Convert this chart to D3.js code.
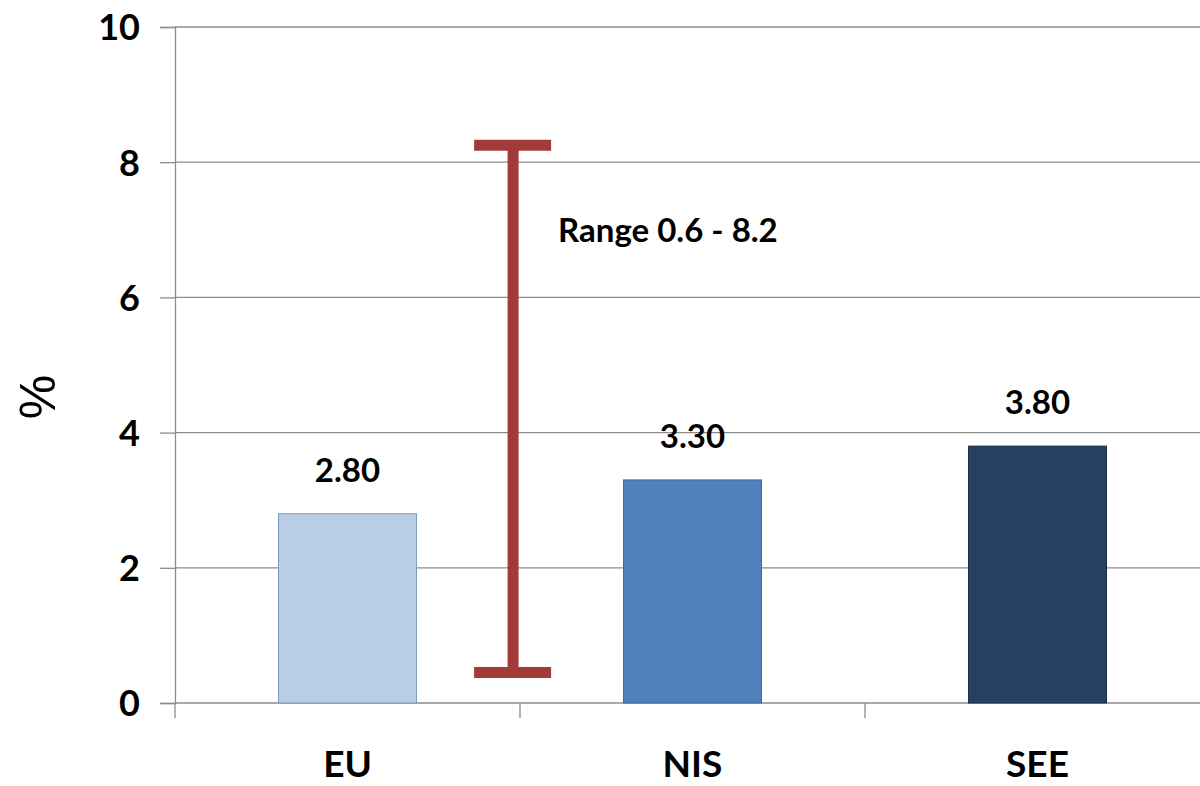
<!DOCTYPE html>
<html>
<head>
<meta charset="utf-8">
<script src="https://cdn.jsdelivr.net/npm/d3@7"></script>
<style>
  body { margin: 0; background: #fff; }
  svg { display: block; }
  text { font-family: Lato, "Open Sans", sans-serif; font-weight: bold; fill: #000; }
</style>
</head>
<body>
<svg id="canvas" width="1200" height="786"></svg>
<script>
let categories = ["EU", "NIS", "SEE"];
let values = [2.8, 3.3, 3.8];
let barColors = ["#b9cde5", "#4f81bd", "#254061"];
let barStrokes = ["#7f9cc0", "#3f6a9e", "#1b304a"];
let yTicks = [0, 2, 4, 6, 8, 10];

// range whisker sits just left of the EU/NIS boundary
let rangeLow = 0.45;
let rangeHigh = 8.25;
let rangePos = 0.98; // in category units
let rangeLabel = "Range 0.6 - 8.2";

let margin = { top: 27, right: -10, bottom: 83, left: 175 };
let width = 1200 - margin.left - margin.right;
let height = 786 - margin.top - margin.bottom;

let svg = d3.select("#canvas");
let g = svg.append("g").attr("transform", `translate(${margin.left},${margin.top})`);

let x = d3.scaleBand().domain(categories).range([0, width]).paddingInner(0.6).paddingOuter(0.3);
let xPos = d3.scaleLinear().domain([0, categories.length]).range([0, width]);
let y = d3.scaleLinear().domain([0, 10]).range([height, 0]);

// gridlines
g.selectAll(".grid")
  .data(yTicks.filter(d => d > 0))
  .enter()
  .append("line")
  .attr("x1", 0).attr("x2", width)
  .attr("y1", d => y(d)).attr("y2", d => y(d))
  .attr("stroke", "#8c8c8c").attr("stroke-width", 1.3);

// y axis
let yAxis = g.append("g")
  .call(d3.axisLeft(y).tickValues(yTicks).tickSize(15).tickPadding(20));
yAxis.select(".domain").attr("stroke", "#8c8c8c").attr("stroke-width", 1.3);
yAxis.selectAll(".tick line").attr("stroke", "#8c8c8c").attr("stroke-width", 1.3);
yAxis.selectAll(".tick text").style("font-size", "36px").attr("dy", "0.36em");

// x axis with boundary ticks
g.append("line")
  .attr("x1", 0).attr("x2", width)
  .attr("y1", height).attr("y2", height)
  .attr("stroke", "#8c8c8c").attr("stroke-width", 1.3);
g.selectAll(".xtick")
  .data(d3.range(categories.length + 1))
  .enter()
  .append("line")
  .attr("x1", d => xPos(d)).attr("x2", d => xPos(d))
  .attr("y1", height).attr("y2", height + 15)
  .attr("stroke", "#8c8c8c").attr("stroke-width", 1.3);

g.selectAll(".xlabel")
  .data(categories)
  .enter()
  .append("text")
  .attr("x", d => x(d) + x.bandwidth() / 2)
  .attr("y", height + 74)
  .attr("text-anchor", "middle")
  .style("font-size", "37px")
  .text(d => d);

// bars
g.selectAll(".bar")
  .data(values)
  .enter()
  .append("rect")
  .attr("x", (d, i) => x(categories[i]))
  .attr("y", d => y(d))
  .attr("width", x.bandwidth())
  .attr("height", d => height - y(d))
  .attr("fill", (d, i) => barColors[i])
  .attr("stroke", (d, i) => barStrokes[i])
  .attr("stroke-width", 1);

g.selectAll(".val")
  .data(values)
  .enter()
  .append("text")
  .attr("x", (d, i) => x(categories[i]) + x.bandwidth() / 2)
  .attr("y", d => y(d) - 32)
  .attr("text-anchor", "middle")
  .style("font-size", "33px")
  .text(d => d.toFixed(2));

// range whisker
let rx = xPos(rangePos);
let whisker = g.append("g").attr("stroke", "#a23a3a").attr("stroke-width", 11);
whisker.append("line")
  .attr("x1", rx).attr("x2", rx)
  .attr("y1", y(rangeHigh)).attr("y2", y(rangeLow));
whisker.selectAll(".cap")
  .data([rangeLow, rangeHigh])
  .enter()
  .append("line")
  .attr("x1", rx - 39).attr("x2", rx + 38)
  .attr("y1", d => y(d)).attr("y2", d => y(d));

g.append("text")
  .attr("x", rx + 45)
  .attr("y", y(rangeHigh) + 97)
  .style("font-size", "33px")
  .text(rangeLabel);

// y axis title
svg.append("text")
  .attr("transform", "translate(55,397) rotate(-90)")
  .attr("text-anchor", "middle")
  .style("font-family", "'Liberation Sans', Arial, sans-serif")
  .style("font-weight", "normal")
  .style("font-size", "50px")
  .text("%");
</script>
</body>
</html>
